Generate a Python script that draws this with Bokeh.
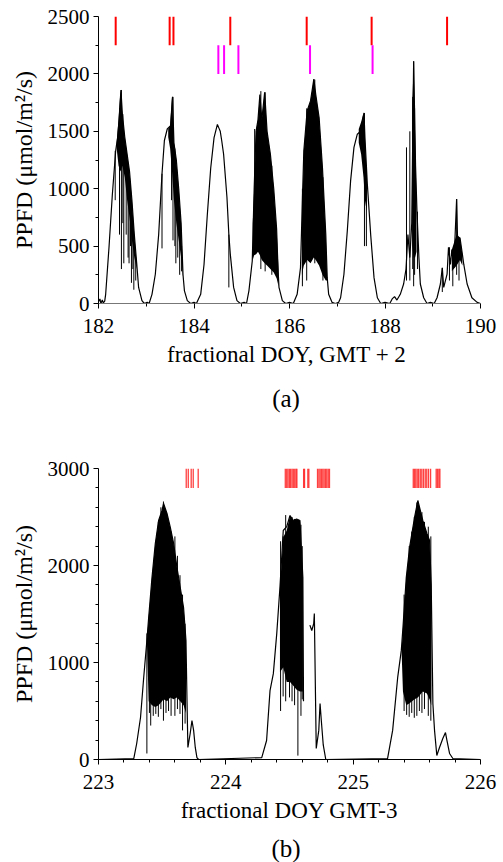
import math
from bokeh.plotting import figure
from bokeh.models import Range1d, FixedTicker, Div
from bokeh.layouts import column
from bokeh.embed import file_html
from bokeh.resources import INLINE

NAN = float("nan")

# ---------------- panel (a) data ----------------
a_xticks = [182, 184, 186, 188, 190]
a_xminor = [183, 185, 187, 189]
a_yticks = [0, 500, 1000, 1500, 2000, 2500]
a_yminor = [250, 750, 1250, 1750, 2250]

a_t = [182.00, 182.03, 182.05, 182.08, 182.10, 182.13, 182.15, 182.22, 182.29, 182.36, 182.40, 182.43, 182.47, 182.50,
       182.55, 182.60, 182.65, 182.70, 182.75, 182.80, 182.84, 182.91, 182.96, 183.02, 183.06,
       183.12, 183.19, 183.26, 183.33, 183.38, 183.44, 183.51, 183.55, 183.58, 183.63, 183.68, 183.73, 183.77, 183.80,
       183.86, 183.93, 184.00, 184.05,
       184.14, 184.21, 184.28, 184.35, 184.42, 184.49, 184.52, 184.55, 184.58, 184.62, 184.69, 184.73, 184.76, 184.83,
       184.90, 184.97, 185.05, 185.10,
       185.15, 185.22, 185.26, 185.30, 185.34, 185.38, 185.42, 185.48, 185.53, 185.60, 185.67, 185.73, 185.76, 185.78,
       185.85, 185.92, 186.00, 186.08,
       186.16, 186.23, 186.27, 186.30, 186.37, 186.44, 186.51, 186.55, 186.62, 186.69, 186.76, 186.79, 186.82, 186.89,
       186.96, 187.03,
       187.07, 187.14, 187.21, 187.28, 187.35, 187.42, 187.49, 187.56, 187.58, 187.63, 187.70, 187.77, 187.84, 187.91,
       188.00, 188.10,
       188.15, 188.20, 188.25, 188.32, 188.39, 188.44, 188.48, 188.52, 188.56, 188.60, 188.64, 188.67, 188.71, 188.74,
       188.81, 188.88, 188.95, 189.03,
       189.09, 189.16, 189.20, 189.23, 189.30, 189.33, 189.37, 189.40, 189.44, 189.50, 189.53, 189.57, 189.62, 189.65,
       189.72, 189.82, 189.93, 190.00]
a_ppfd = [15, 40, 0, 30, 5, 20, 80, 490, 950, 1330, 1445, 1600, 1860, 1650,
          1450, 1300, 1150, 900, 600, 350, 140, 25, 0, 10, 0,
          80, 255, 600, 1130, 1420, 1520, 1550, 1800, 1400, 1250, 1000, 700, 250, 110,
          25, 0, 10, 0,
          80, 340, 780, 1180, 1445, 1560, 1530, 1500, 1420, 1300, 925, 600, 430, 140,
          25, 0, 10, 0,
          110, 370, 1000, 1500, 1600, 1820, 1600, 1840, 1500, 1300, 1000, 650, 300, 140,
          25, 0, 10, 0,
          80, 310, 900, 1330, 1680, 1765, 1955, 1820, 1620, 1185, 600, 225, 80, 10,
          0, 10,
          50, 255, 630, 1070, 1360, 1475, 1500, 1660, 1445, 1040, 600, 225, 50, 0,
          10, 0,
          40, 60, 30, 80, 170, 300, 600, 400, 700, 2110, 1200, 800, 400, 170,
          50, 0, 10, 0,
          50, 170, 310, 140, 255, 490, 340, 470, 310, 910, 370, 575, 430, 340,
          170, 50, 10, 0]

# dense (cloud-flicker) bands: time, lower and upper envelope; None separates days
a_band_t = [182.38, 182.42, 182.46, 182.50, 182.55, 182.60, 182.65, 182.70, 182.75, 182.80, None,
            183.46, 183.50, 183.54, 183.58, 183.63, 183.68, 183.73, 183.77, None,
            185.23, 185.26, 185.30, 185.34, 185.38, 185.42, 185.48, 185.53, 185.60, 185.67, 185.73, 185.77, None,
            186.26, 186.30, 186.37, 186.44, 186.51, 186.55, 186.62, 186.69, 186.76, 186.79, None,
            187.45, 187.50, 187.55, 187.58, 187.62, None,
            188.57, 188.60, 188.63, 188.66, None,
            189.40, 189.50, 189.57, 189.62]
a_band_lo = [1350, 1200, 1150, 1200, 1100, 900, 750, 550, 400, 300, None,
             1450, 1350, 1150, 900, 700, 550, 400, 230, None,
             380, 420, 430, 450, 420, 380, 350, 330, 300, 270, 220, 150, None,
             250, 330, 380, 350, 400, 380, 330, 250, 200, 200, None,
             1400, 1300, 1100, 900, 800, None,
             500, 400, 400, 450, None,
             280, 330, 380, 330]
a_band_hi = [1400, 1600, 1860, 1650, 1450, 1300, 1150, 900, 600, 350, None,
             1520, 1550, 1800, 1400, 1250, 1000, 700, 250, None,
             700, 1000, 1500, 1600, 1820, 1600, 1840, 1500, 1300, 1000, 650, 300, None,
             700, 1330, 1680, 1765, 1955, 1820, 1620, 1185, 600, 225, None,
             1520, 1580, 1660, 1445, 1100, None,
             1700, 2110, 1500, 900, None,
             470, 600, 575, 430]

# individual flicker spikes: time, low, high
a_sp_t = [182.35, 182.44, 182.48, 182.51, 182.53, 182.58, 182.62, 182.64, 182.67, 182.69, 182.72, 182.74, 182.78,
          183.33, 183.53, 183.56, 183.60, 183.62, 183.66, 183.70, 183.74, 184.73,
          185.27, 185.40, 185.49, 185.63, 186.27, 186.36, 186.53, 186.70, 187.57, 187.61,
          188.45, 188.52, 188.58, 188.60, 188.62, 188.68, 189.20, 189.35, 189.42, 189.50, 189.55]
a_sp_lo = [900, 600, 300, 700, 350, 600, 400, 350, 500, 180, 300, 120, 200,
           480, 900, 550, 500, 350, 400, 250, 280, 140,
           450, 300, 280, 250, 150, 200, 350, 200, 500, 500,
           200, 200, 300, 150, 250, 300, 100, 200, 150, 250, 200]
a_sp_hi = [1330, 1700, 1860, 1650, 1300, 1350, 1200, 1000, 1050, 900, 700, 600, 400,
           1130, 1600, 1800, 1350, 1000, 1000, 700, 500, 600,
           1520, 1850, 1840, 1200, 1000, 1700, 1950, 1100, 1660, 1200,
           1360, 1500, 1800, 2110, 1700, 800, 310, 490, 470, 910, 575]

a_red = [182.36, 183.49, 183.57, 184.76, 186.36, 187.72, 189.30]
a_magenta = [184.51, 184.63, 184.93, 186.43, 187.74]

# ---------------- panel (b) data ----------------
b_xticks = [223, 224, 225, 226]
b_xminor = [223.2, 223.4, 223.6, 223.8, 224.2, 224.4, 224.6, 224.8, 225.2, 225.4, 225.6, 225.8]
b_yticks = [0, 1000, 2000, 3000]
b_yminor = [200, 400, 600, 800, 1200, 1400, 1600, 1800, 2200, 2400, 2600, 2800]

b_t = [223.00, 223.277, 223.30, 223.33, 223.355, 223.38, 223.394, 223.42, 223.446, 223.472, 223.499, 223.511, 223.538,
       223.564, 223.59, 223.616, 223.642, 223.668, 223.687, 223.695, 223.702, 223.72, 223.734, 223.747, 223.76, 223.773,
       223.786, 224.282, 224.32, 224.347, 224.373, 224.40, 224.425, 224.451, 224.478, 224.504, 224.53, 224.556, 224.582,
       224.605, 224.61, None,
       224.66, 224.675, 224.69, 224.695, 224.71, 224.73, 224.74, 224.75, 224.765, 224.785,
       225.27, 225.31, 225.35, 225.378, 225.391, 225.417, 225.443, 225.482, 225.508, 225.547, 225.579, 225.60, 225.613,
       225.626, 225.639, 225.657, 225.678, 225.704, 225.725, 225.736, 225.757, 225.783, 226.00]
b_ppfd = [0, 10, 165, 433, 845, 1227, 1464, 1876, 2227, 2464, 2567, 2640, 2536,
          2392, 2227, 1980, 1773, 1567, 1227, 608, 124, 268, 402, 300, 124, 20,
          0, 20, 196, 710, 885, 1300, 1775, 2361, 2400, 2515, 2464, 2480, 2464,
          1876, 600, None,
          1385, 1330, 1400, 1505, 113, 300, 577, 400, 150, 0,
          10, 300, 850, 1125, 1360, 1876, 2186, 2495, 2670, 2464, 2330, 2258, 1800,
          577, 300, 41, 124, 216, 278, 200, 62, 10, 0]

b_band_t = [223.38, 223.394, 223.42, 223.446, 223.472, 223.499, 223.511, 223.538, 223.564, 223.59, 223.616, 223.642,
            223.668, 223.687, None,
            224.425, 224.451, 224.478, 224.504, 224.53, 224.556, 224.582, 224.605, None,
            225.38, 225.391, 225.417, 225.443, 225.482, 225.508, 225.547, 225.579, 225.60, 225.613]
b_band_lo = [1227, 600, 560, 540, 560, 600, 620, 600, 640, 620, 640, 600, 560, 480, None,
             900, 950, 800, 800, 760, 720, 700, 700, None,
             1125, 700, 560, 580, 620, 640, 700, 680, 620, 560]
b_band_hi = [1227, 1464, 1876, 2227, 2464, 2567, 2640, 2536, 2392, 2227, 1980, 1773, 1567, 1227, None,
             1775, 2290, 2361, 2515, 2464, 2480, 2464, 1876, None,
             1125, 1360, 1876, 2186, 2495, 2670, 2464, 2330, 2258, 1800]

b_sp_t = [223.38, 223.40, 223.41, 223.43, 223.45, 223.47, 223.49, 223.51, 223.53, 223.55, 223.57, 223.60, 223.62,
          223.64, 223.66, 223.68, 224.43, 224.45, 224.47, 224.50, 224.52, 224.54, 224.566, 224.59, 224.60,
          225.40, 225.42, 225.44, 225.46, 225.48, 225.50, 225.52, 225.54, 225.56, 225.59, 225.61]
b_sp_lo = [62, 480, 350, 450, 470, 440, 520, 400, 480, 500, 450, 450, 520, 470, 300, 370,
           500, 650, 600, 640, 600, 560, 40, 450, 620,
           500, 460, 440, 480, 430, 450, 500, 480, 520, 450, 400]
b_sp_hi = [1300, 1500, 1700, 1900, 2200, 2450, 2600, 2660, 2550, 2400, 2350, 2300, 2100, 1900, 1700, 1400,
           2250, 2300, 2520, 2400, 2500, 2480, 2400, 2420, 2200,
           1700, 1900, 2200, 2350, 2500, 2650, 2600, 2550, 2450, 2400, 2300]

b_red = [223.689, 223.705, 223.728, 223.744, 223.783,
         224.467, 224.478, 224.488, 224.499, 224.509, 224.520, 224.530, 224.541, 224.551, 224.558,
         224.611, 224.618, 224.644, 224.652,
         224.720, 224.731, 224.741, 224.752, 224.762, 224.772, 224.783, 224.793, 224.804, 224.814,
         225.472, 225.482, 225.492, 225.503, 225.514, 225.527, 225.539, 225.552, 225.566, 225.578, 225.592, 225.608,
         225.652, 225.662, 225.673, 225.681]

SERIF = "'Liberation Serif', 'Times New Roman', serif"


def nanify(seq):
    return [NAN if v is None else v for v in seq]


def split_bands(t, lo, hi):
    segs, cur = [], ([], [], [])
    for a, b, c in zip(t, lo, hi):
        if a is None:
            if cur[0]:
                segs.append(cur)
            cur = ([], [], [])
        else:
            cur[0].append(a); cur[1].append(b); cur[2].append(c)
    if cur[0]:
        segs.append(cur)
    return segs


def style_axes(p, xt, xm, yt, ym, bottom_color):
    for ax in (p.xaxis[0], p.yaxis[0]):
        ax.major_label_text_font = SERIF
        ax.major_label_text_font_size = "21px"
        ax.major_label_text_color = "black"
        ax.axis_label_text_font = SERIF
        ax.axis_label_text_font_style = "normal"
        ax.axis_label_text_color = "black"
        ax.major_tick_in = 0
        ax.major_tick_out = 5
        ax.minor_tick_in = 0
        ax.minor_tick_out = 3
        ax.major_tick_line_color = "black"
        ax.minor_tick_line_color = "black"
    p.xaxis[0].axis_label_text_font_size = "23px"
    p.yaxis[0].axis_label_text_font_size = "24px"
    p.xaxis[0].ticker = FixedTicker(ticks=xt, minor_ticks=xm)
    p.yaxis[0].ticker = FixedTicker(ticks=yt, minor_ticks=ym)
    p.yaxis[0].axis_line_color = "black"
    p.xaxis[0].axis_line_color = bottom_color
    p.xaxis[0].major_label_standoff = 10
    p.yaxis[0].major_label_standoff = 4
    p.xaxis[0].axis_label_standoff = 6
    p.yaxis[0].axis_label_standoff = 8
    p.xgrid.visible = False
    p.ygrid.visible = False
    p.outline_line_color = None


def make_panel(h, top, bottom, xr, yr, xlabel):
    p = figure(width=497, height=h, x_range=Range1d(*xr), y_range=Range1d(*yr),
               output_backend="svg", toolbar_location=None,
               min_border_left=98, min_border_right=17, min_border_top=top, min_border_bottom=bottom,
               x_axis_label=xlabel, y_axis_label="PPFD (μmol/m²/s)")
    return p


def caption(text, h, pad_top):
    return Div(text=text, width=382, height=h, margin=(0, 0, 0, 95),
               styles={"font-family": SERIF, "font-size": "25px", "line-height": "24px",
                       "text-align": "center", "padding-top": f"{pad_top}px", "color": "black",
                       "box-sizing": "border-box", "overflow": "visible"})


# ---- panel (a)
pa = make_panel(383, 16, 80, (182, 190), (0, 2500), "fractional DOY,  GMT + 2")
style_axes(pa, a_xticks, a_xminor, a_yticks, a_yminor, "#777777")
for bt, blo, bhi in split_bands(a_band_t, a_band_lo, a_band_hi):
    pa.varea(x=bt, y1=blo, y2=bhi, fill_color="black")
pa.segment(x0=a_sp_t, y0=a_sp_lo, x1=a_sp_t, y1=a_sp_hi, line_color="black", line_width=1)
pa.line(a_t, a_ppfd, line_color="black", line_width=1.2)
pa.segment(x0=a_red, y0=[2250] * len(a_red), x1=a_red, y1=[2500] * len(a_red), line_color="red", line_width=2)
pa.segment(x0=a_magenta, y0=[2000] * len(a_magenta), x1=a_magenta, y1=[2250] * len(a_magenta),
           line_color="magenta", line_width=2)
cap_a = caption("(a)", 45, 4)

# ---- panel (b)
pb = make_panel(408, 40, 77, (223, 226), (0, 3000), "fractional DOY GMT-3")
style_axes(pb, b_xticks, b_xminor, b_yticks, b_yminor, "black")
for bt, blo, bhi in split_bands(b_band_t, b_band_lo, b_band_hi):
    pb.varea(x=bt, y1=blo, y2=bhi, fill_color="black")
pb.segment(x0=b_sp_t, y0=b_sp_lo, x1=b_sp_t, y1=b_sp_hi, line_color="black", line_width=1)
pb.line(nanify(b_t), nanify(b_ppfd), line_color="black", line_width=1.2)
pb.segment(x0=b_red, y0=[2800] * len(b_red), x1=b_red, y1=[3000] * len(b_red), line_color="red",
           line_width=1.3, line_alpha=0.75)
cap_b = caption("(b)", 26, 1)

layout = column(pa, cap_a, pb, cap_b, spacing=0)
open("out.html", "w").write(file_html(layout, INLINE))
